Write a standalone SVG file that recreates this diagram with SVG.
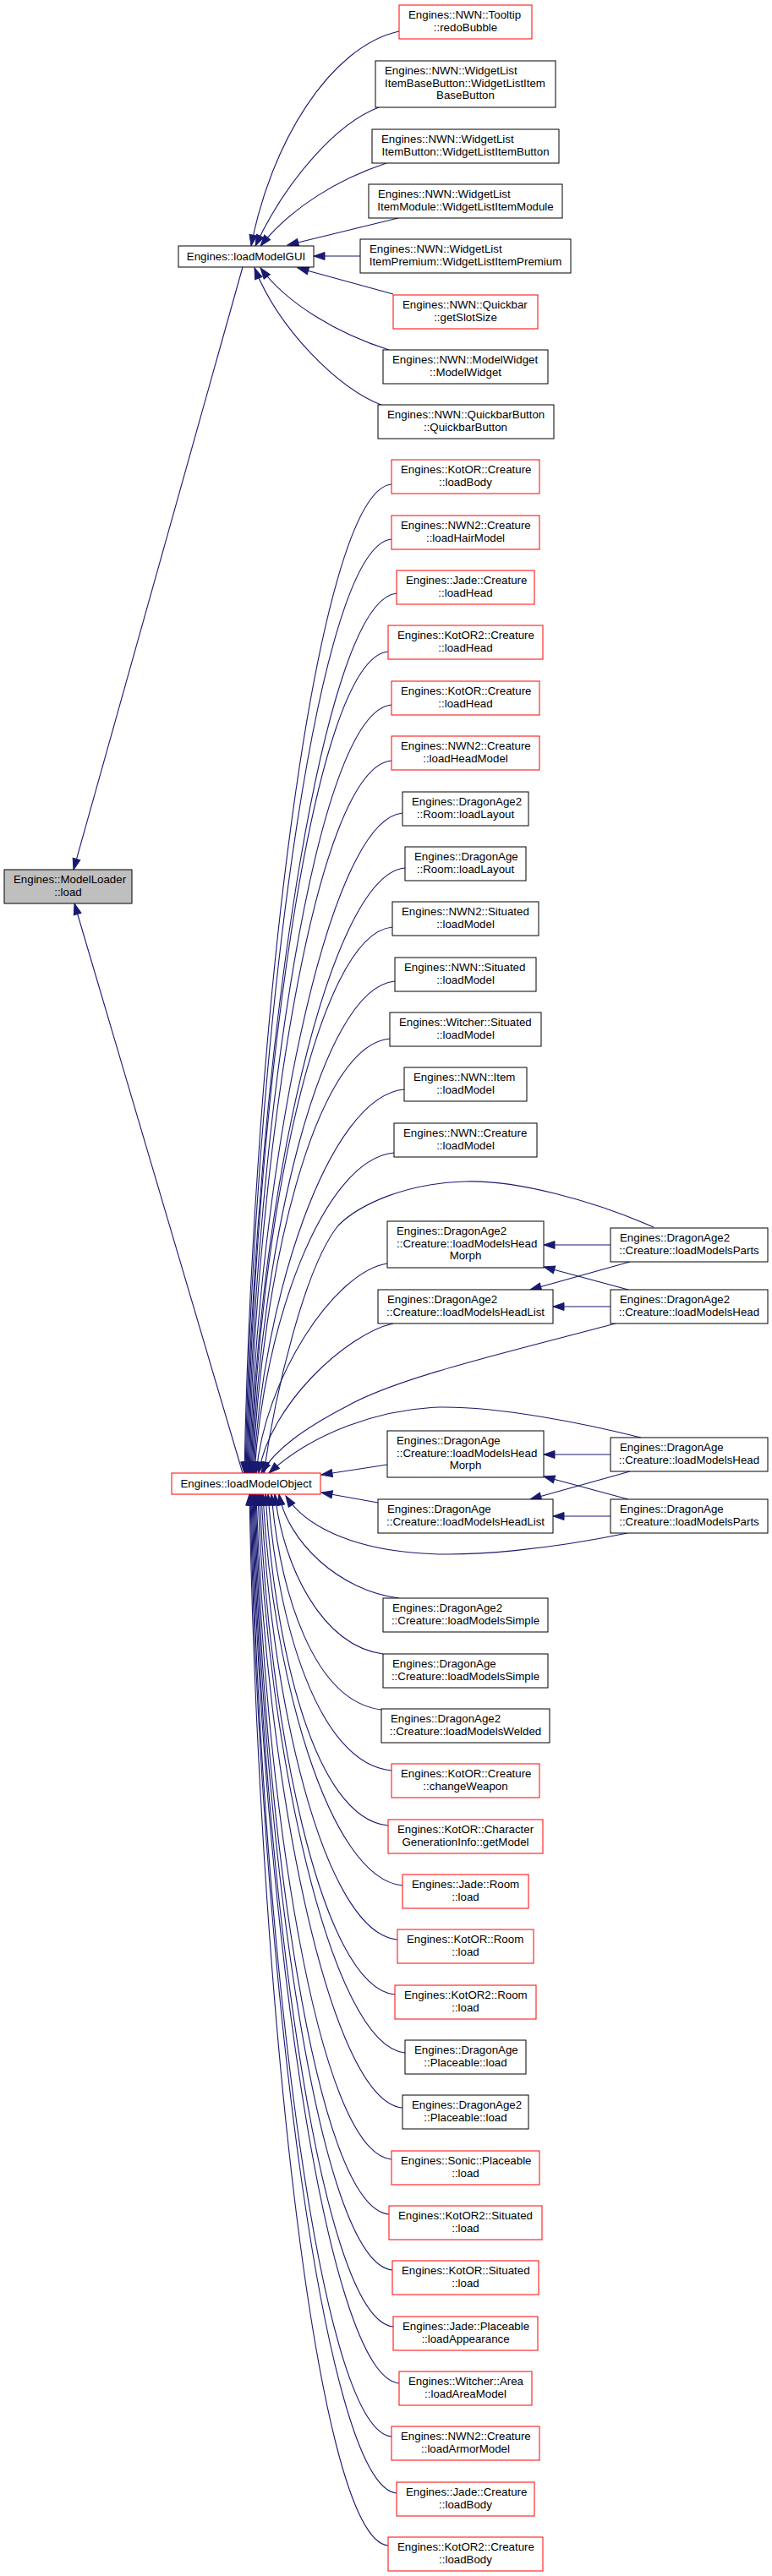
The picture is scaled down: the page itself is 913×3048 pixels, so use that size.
<svg xmlns="http://www.w3.org/2000/svg" width="913" height="3048" viewBox="0 0 913 3048">
<style>
.bg{fill:#fff}
.nb{fill:#fff;stroke:#000;stroke-width:1}
.nr{fill:#fff;stroke:#ff0000;stroke-width:1}
.ng{fill:#bfbfbf;stroke:#000;stroke-width:1}
.t{font-family:"Liberation Sans",Arial,sans-serif;font-size:13.3px;fill:#000}
.c{text-anchor:middle}
.e{fill:none;stroke:#191970;stroke-width:1.1;marker-end:url(#ah)}
</style>
<defs>
<marker id="ah" markerUnits="userSpaceOnUse" markerWidth="16" markerHeight="12" refX="13" refY="4.5" orient="auto" overflow="visible">
<path d="M0,0 L13,4.5 L0,9 z" fill="#191970" stroke="#191970" stroke-width="1"/>
</marker>
</defs>
<rect class="bg" x="0" y="0" width="913" height="3048"/>

<g id="edges">
<path class="e" d="M287,316 L87,1029"/>
<path class="e" d="M287,1743 L88,1069"/>
<path class="e" d="M472,37 C390,55 320,170 297,291"/>
<path class="e" d="M448,127 C400,145 340,210 302,291"/>
<path class="e" d="M457,193 C400,212 345,245 308,291"/>
<path class="e" d="M471,258 L340,290"/>
<path class="e" d="M426,303 L371,303"/>
<path class="e" d="M465,348 L352,317"/>
<path class="e" d="M460,414 C400,395 340,360 308,317"/>
<path class="e" d="M453,480 C400,460 330,390 301,317"/>

<path class="e" d="M463,573 C373,581 299,1216 289,1743"/>
<path class="e" d="M463,638 C373,646 300,1246 290,1743"/>
<path class="e" d="M469,702 C379,710 301,1275 291,1743"/>
<path class="e" d="M459,771 C369,779 302,1306 292,1743"/>
<path class="e" d="M463,834 C373,842 303,1334 293,1743"/>
<path class="e" d="M463,900 C373,908 304,1364 294,1743"/>
<path class="e" d="M476,962 C386,970 305,1392 295,1743"/>
<path class="e" d="M479,1027 C389,1035 306,1421 296,1743"/>
<path class="e" d="M464,1097 C374,1105 307,1452 297,1743"/>
<path class="e" d="M467,1161 C377,1169 308,1481 298,1743"/>
<path class="e" d="M461,1229 C371,1237 309,1512 299,1743"/>
<path class="e" d="M478,1289 C388,1297 310,1539 300,1743"/>
<path class="e" d="M466,1364 C381,1372 311,1572 301,1743"/>
<path class="e" d="M458,1495 C395,1505 313,1631 303,1743"/>
<path class="e" d="M465,1566 C410,1578 318,1663 306,1743"/>
<path class="e" d="M773,1452 C700,1420 610,1396 550,1398 C480,1400 425,1425 400,1450 C360,1500 325,1650 312,1743"/>
<path class="e" d="M728,1566 C600,1600 470,1630 410,1664 C360,1690 325,1715 309,1743"/>
<path class="e" d="M758,1701 C690,1684 590,1664 520,1665 C450,1667 370,1695 318,1743"/>
<path class="e" d="M458,1733 L380,1745"/>
<path class="e" d="M447,1778 L380,1766"/>
<path class="e" d="M742,1814 C650,1833 560,1842 500,1838 C430,1834 365,1812 338,1770"/>

<path class="e" d="M722,1473 L643,1473"/>
<path class="e" d="M743,1526 L643,1499"/>
<path class="e" d="M745,1493 L627,1526"/>
<path class="e" d="M722,1546 L654,1546"/>
<path class="e" d="M722,1721 L643,1721"/>
<path class="e" d="M743,1774 L643,1747"/>
<path class="e" d="M745,1741 L627,1774"/>
<path class="e" d="M722,1794 L654,1794"/>

<path class="e" d="M472,1891 C400,1882 340,1823 330,1768"/>
<path class="e" d="M453,1957 C380,1947 335,1853 325,1768"/>
<path class="e" d="M451,2023 C370,2013 331,1883 321,1768"/>
<path class="e" d="M463,2095 C375,2087 327,1915 317,1768"/>
<path class="e" d="M459,2160 C371,2152 324,1944 314,1768"/>
<path class="e" d="M476,2231 C388,2223 321,1976 311,1768"/>
<path class="e" d="M470,2295 C382,2287 319,2005 309,1768"/>
<path class="e" d="M467,2360 C379,2352 317,2034 307,1768"/>
<path class="e" d="M479,2429 C391,2421 315,2065 305,1768"/>
<path class="e" d="M476,2494 C388,2486 313,2095 303,1768"/>
<path class="e" d="M463,2555 C375,2547 312,2122 302,1768"/>
<path class="e" d="M460,2620 C372,2612 311,2151 301,1768"/>
<path class="e" d="M464,2686 C376,2678 310,2181 300,1768"/>
<path class="e" d="M465,2753 C377,2745 309,2211 299,1768"/>
<path class="e" d="M472,2820 C384,2812 308,2241 298,1768"/>
<path class="e" d="M463,2883 C375,2875 307,2270 297,1768"/>
<path class="e" d="M469,2950 C381,2942 306,2300 296,1768"/>
<path class="e" d="M459,3012 C371,3004 305,2328 295,1768"/>
</g>

<g id="n_modelloader"><rect class="ng" x="5" y="1029" width="151" height="40"/><text class="t" x="16" y="1045">Engines::ModelLoader</text><text class="t c" x="80.5" y="1059.7">::load</text></g>
<g id="n_loadModelGUI"><rect class="nb" x="211" y="291" width="160" height="25"/><text class="t c" x="291" y="308">Engines::loadModelGUI</text></g>
<g id="n_loadModelObject"><rect class="nr" x="203" y="1743" width="176" height="25"/><text class="t c" x="291" y="1760">Engines::loadModelObject</text></g>

<g id="n_redo"><rect class="nr" x="472" y="6" width="157" height="40"/><text class="t" x="483" y="22">Engines::NWN::Tooltip</text><text class="t c" x="550.5" y="36.7">::redoBubble</text></g>
<g id="n_wlibb"><rect class="nb" x="444" y="72" width="213" height="55"/><text class="t" x="455" y="88">Engines::NWN::WidgetList</text><text class="t" x="455" y="102.6">ItemBaseButton::WidgetListItem</text><text class="t c" x="550.5" y="117">BaseButton</text></g>
<g id="n_wlib"><rect class="nb" x="440" y="153" width="221" height="40"/><text class="t" x="451" y="169">Engines::NWN::WidgetList</text><text class="t c" x="550.5" y="183.7">ItemButton::WidgetListItemButton</text></g>
<g id="n_wlim"><rect class="nb" x="436" y="218" width="229" height="40"/><text class="t" x="447" y="234">Engines::NWN::WidgetList</text><text class="t c" x="550.5" y="248.7">ItemModule::WidgetListItemModule</text></g>
<g id="n_wlip"><rect class="nb" x="426" y="283" width="249" height="40"/><text class="t" x="437" y="299">Engines::NWN::WidgetList</text><text class="t c" x="550.5" y="313.7">ItemPremium::WidgetListItemPremium</text></g>
<g id="n_qb"><rect class="nr" x="465" y="349" width="171" height="40"/><text class="t" x="476" y="365">Engines::NWN::Quickbar</text><text class="t c" x="550.5" y="379.7">::getSlotSize</text></g>
<g id="n_mw"><rect class="nb" x="453" y="414" width="195" height="40"/><text class="t" x="464" y="430">Engines::NWN::ModelWidget</text><text class="t c" x="550.5" y="444.7">::ModelWidget</text></g>
<g id="n_qbb"><rect class="nb" x="447" y="479" width="208" height="40"/><text class="t" x="458" y="495">Engines::NWN::QuickbarButton</text><text class="t c" x="550.5" y="509.7">::QuickbarButton</text></g>

<g id="n_kbody"><rect class="nr" x="463" y="544" width="175" height="40"/><text class="t" x="474" y="560">Engines::KotOR::Creature</text><text class="t c" x="550.5" y="574.7">::loadBody</text></g>
<g id="n_hair"><rect class="nr" x="463" y="610" width="175" height="40"/><text class="t" x="474" y="626">Engines::NWN2::Creature</text><text class="t c" x="550.5" y="640.7">::loadHairModel</text></g>
<g id="n_jhead"><rect class="nr" x="469" y="675" width="163" height="40"/><text class="t" x="480" y="691">Engines::Jade::Creature</text><text class="t c" x="550.5" y="705.7">::loadHead</text></g>
<g id="n_k2head"><rect class="nr" x="459" y="740" width="183" height="40"/><text class="t" x="470" y="756">Engines::KotOR2::Creature</text><text class="t c" x="550.5" y="770.7">::loadHead</text></g>
<g id="n_khead"><rect class="nr" x="463" y="806" width="175" height="40"/><text class="t" x="474" y="822">Engines::KotOR::Creature</text><text class="t c" x="550.5" y="836.7">::loadHead</text></g>
<g id="n_nwn2head"><rect class="nr" x="463" y="871" width="175" height="40"/><text class="t" x="474" y="887">Engines::NWN2::Creature</text><text class="t c" x="550.5" y="901.7">::loadHeadModel</text></g>
<g id="n_da2room"><rect class="nb" x="476" y="937" width="149" height="40"/><text class="t" x="487" y="953">Engines::DragonAge2</text><text class="t c" x="550.5" y="967.7">::Room::loadLayout</text></g>
<g id="n_daroom"><rect class="nb" x="479" y="1002" width="143" height="40"/><text class="t" x="490" y="1018">Engines::DragonAge</text><text class="t c" x="550.5" y="1032.7">::Room::loadLayout</text></g>
<g id="n_nwn2sit"><rect class="nb" x="464" y="1067" width="173" height="40"/><text class="t" x="475" y="1083">Engines::NWN2::Situated</text><text class="t c" x="550.5" y="1097.7">::loadModel</text></g>
<g id="n_nwnsit"><rect class="nb" x="467" y="1133" width="167" height="40"/><text class="t" x="478" y="1149">Engines::NWN::Situated</text><text class="t c" x="550.5" y="1163.7">::loadModel</text></g>
<g id="n_witsit"><rect class="nb" x="461" y="1198" width="179" height="40"/><text class="t" x="472" y="1214">Engines::Witcher::Situated</text><text class="t c" x="550.5" y="1228.7">::loadModel</text></g>
<g id="n_item"><rect class="nb" x="478" y="1263" width="145" height="40"/><text class="t" x="489" y="1279">Engines::NWN::Item</text><text class="t c" x="550.5" y="1293.7">::loadModel</text></g>
<g id="n_nwncre"><rect class="nb" x="466" y="1329" width="169" height="40"/><text class="t" x="477" y="1345">Engines::NWN::Creature</text><text class="t c" x="550.5" y="1359.7">::loadModel</text></g>

<g id="n_da2hm"><rect class="nb" x="458" y="1445" width="185" height="55"/><text class="t" x="469" y="1461">Engines::DragonAge2</text><text class="t" x="469" y="1475.6">::Creature::loadModelsHead</text><text class="t c" x="550.5" y="1490">Morph</text></g>
<g id="n_da2hl"><rect class="nb" x="447" y="1526" width="207" height="40"/><text class="t" x="458" y="1542">Engines::DragonAge2</text><text class="t c" x="550.5" y="1556.7">::Creature::loadModelsHeadList</text></g>
<g id="n_da2parts"><rect class="nb" x="722" y="1453" width="186" height="40"/><text class="t" x="733" y="1469">Engines::DragonAge2</text><text class="t c" x="815" y="1483.7">::Creature::loadModelsParts</text></g>
<g id="n_da2head"><rect class="nb" x="722" y="1526" width="186" height="40"/><text class="t" x="733" y="1542">Engines::DragonAge2</text><text class="t c" x="815" y="1556.7">::Creature::loadModelsHead</text></g>
<g id="n_dahm"><rect class="nb" x="458" y="1693" width="185" height="55"/><text class="t" x="469" y="1709">Engines::DragonAge</text><text class="t" x="469" y="1723.6">::Creature::loadModelsHead</text><text class="t c" x="550.5" y="1738">Morph</text></g>
<g id="n_dahl"><rect class="nb" x="447" y="1774" width="207" height="40"/><text class="t" x="458" y="1790">Engines::DragonAge</text><text class="t c" x="550.5" y="1804.7">::Creature::loadModelsHeadList</text></g>
<g id="n_dahead"><rect class="nb" x="722" y="1701" width="186" height="40"/><text class="t" x="733" y="1717">Engines::DragonAge</text><text class="t c" x="815" y="1731.7">::Creature::loadModelsHead</text></g>
<g id="n_daparts"><rect class="nb" x="722" y="1774" width="186" height="40"/><text class="t" x="733" y="1790">Engines::DragonAge</text><text class="t c" x="815" y="1804.7">::Creature::loadModelsParts</text></g>

<g id="n_da2simple"><rect class="nb" x="453" y="1891" width="195" height="40"/><text class="t" x="464" y="1907">Engines::DragonAge2</text><text class="t c" x="550.5" y="1921.7">::Creature::loadModelsSimple</text></g>
<g id="n_dasimple"><rect class="nb" x="453" y="1957" width="195" height="40"/><text class="t" x="464" y="1973">Engines::DragonAge</text><text class="t c" x="550.5" y="1987.7">::Creature::loadModelsSimple</text></g>
<g id="n_da2welded"><rect class="nb" x="451" y="2022" width="199" height="40"/><text class="t" x="462" y="2038">Engines::DragonAge2</text><text class="t c" x="550.5" y="2052.7">::Creature::loadModelsWelded</text></g>
<g id="n_changew"><rect class="nr" x="463" y="2087" width="175" height="40"/><text class="t" x="474" y="2103">Engines::KotOR::Creature</text><text class="t c" x="550.5" y="2117.7">::changeWeapon</text></g>
<g id="n_chargen"><rect class="nr" x="459" y="2153" width="183" height="40"/><text class="t" x="470" y="2169">Engines::KotOR::Character</text><text class="t c" x="550.5" y="2183.7">GenerationInfo::getModel</text></g>
<g id="n_jroom"><rect class="nr" x="476" y="2218" width="149" height="40"/><text class="t" x="487" y="2234">Engines::Jade::Room</text><text class="t c" x="550.5" y="2248.7">::load</text></g>
<g id="n_kroom"><rect class="nr" x="470" y="2283" width="161" height="40"/><text class="t" x="481" y="2299">Engines::KotOR::Room</text><text class="t c" x="550.5" y="2313.7">::load</text></g>
<g id="n_k2room"><rect class="nr" x="467" y="2349" width="167" height="40"/><text class="t" x="478" y="2365">Engines::KotOR2::Room</text><text class="t c" x="550.5" y="2379.7">::load</text></g>
<g id="n_daplace"><rect class="nb" x="479" y="2414" width="143" height="40"/><text class="t" x="490" y="2430">Engines::DragonAge</text><text class="t c" x="550.5" y="2444.7">::Placeable::load</text></g>
<g id="n_da2place"><rect class="nb" x="476" y="2479" width="149" height="40"/><text class="t" x="487" y="2495">Engines::DragonAge2</text><text class="t c" x="550.5" y="2509.7">::Placeable::load</text></g>
<g id="n_sonic"><rect class="nr" x="463" y="2545" width="175" height="40"/><text class="t" x="474" y="2561">Engines::Sonic::Placeable</text><text class="t c" x="550.5" y="2575.7">::load</text></g>
<g id="n_k2sit"><rect class="nr" x="460" y="2610" width="181" height="40"/><text class="t" x="471" y="2626">Engines::KotOR2::Situated</text><text class="t c" x="550.5" y="2640.7">::load</text></g>
<g id="n_ksit"><rect class="nr" x="464" y="2675" width="173" height="40"/><text class="t" x="475" y="2691">Engines::KotOR::Situated</text><text class="t c" x="550.5" y="2705.7">::load</text></g>
<g id="n_jplace"><rect class="nr" x="465" y="2741" width="171" height="40"/><text class="t" x="476" y="2757">Engines::Jade::Placeable</text><text class="t c" x="550.5" y="2771.7">::loadAppearance</text></g>
<g id="n_witarea"><rect class="nr" x="472" y="2806" width="157" height="40"/><text class="t" x="483" y="2822">Engines::Witcher::Area</text><text class="t c" x="550.5" y="2836.7">::loadAreaModel</text></g>
<g id="n_armor"><rect class="nr" x="463" y="2871" width="175" height="40"/><text class="t" x="474" y="2887">Engines::NWN2::Creature</text><text class="t c" x="550.5" y="2901.7">::loadArmorModel</text></g>
<g id="n_jbody"><rect class="nr" x="469" y="2937" width="163" height="40"/><text class="t" x="480" y="2953">Engines::Jade::Creature</text><text class="t c" x="550.5" y="2967.7">::loadBody</text></g>
<g id="n_k2body"><rect class="nr" x="459" y="3002" width="183" height="40"/><text class="t" x="470" y="3018">Engines::KotOR2::Creature</text><text class="t c" x="550.5" y="3032.7">::loadBody</text></g>
</svg>
